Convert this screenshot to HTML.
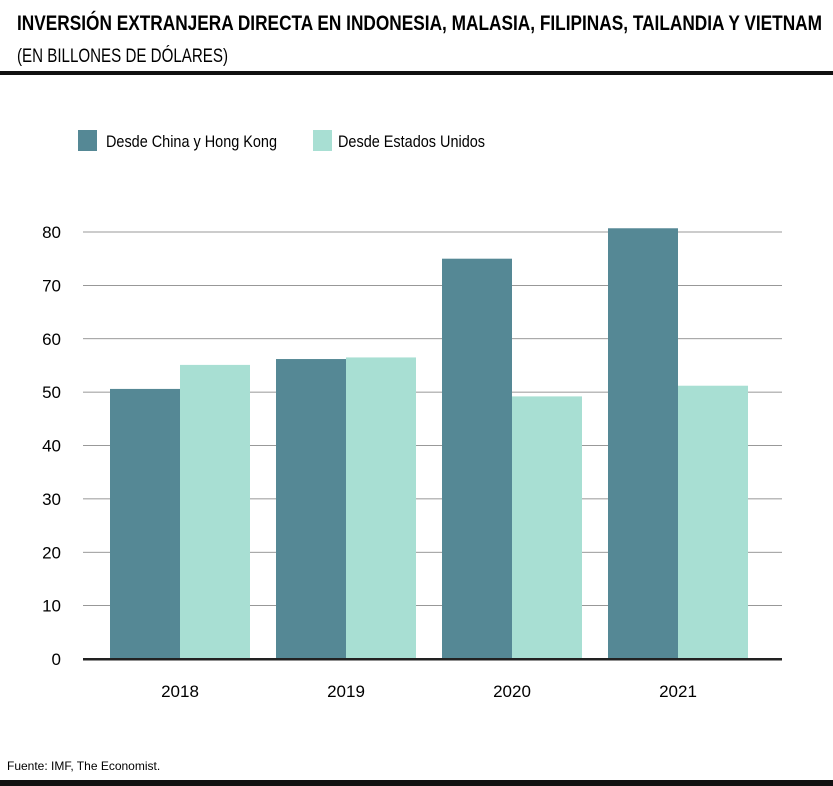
<!DOCTYPE html>
<html><head><meta charset="utf-8"><style>
html,body{margin:0;padding:0;background:#fff;}
svg{display:block;font-family:"Liberation Sans Narrow","Liberation Sans",sans-serif;}
</style></head><body>
<svg width="833" height="786" viewBox="0 0 833 786">
<text x="17" y="30" font-size="21" font-weight="bold" textLength="805" lengthAdjust="spacingAndGlyphs">INVERSIÓN EXTRANJERA DIRECTA EN INDONESIA, MALASIA, FILIPINAS, TAILANDIA Y VIETNAM</text>
<text x="17" y="62" font-size="19" textLength="211" lengthAdjust="spacingAndGlyphs">(EN BILLONES DE DÓLARES)</text>
<rect x="0" y="71" width="833" height="4" fill="#111"/>
<g>
<rect x="78" y="130" width="19" height="21" fill="#558895"/>
<text x="106" y="147" font-size="17" textLength="171" lengthAdjust="spacingAndGlyphs">Desde China y Hong Kong</text>
<rect x="313" y="130" width="19" height="21" fill="#a8dfd3"/>
<text x="338" y="147" font-size="17" textLength="147" lengthAdjust="spacingAndGlyphs">Desde Estados Unidos</text>
</g>
<g id="grid"></g><g id="bars"></g><g id="xlabels"></g>
<rect x="83" y="658" width="699" height="2.5" fill="#222"/>
<text x="7" y="770" font-size="12">Fuente: IMF, The Economist.</text>
<rect x="0" y="780" width="833" height="6" fill="#111"/>
</svg>
<script>
const categories=["2018","2019","2020","2021"];
const chinaValues=[50.6,56.2,75.0,80.7];
const usValues=[55.1,56.5,49.2,51.2];
const yTicks=[0,10,20,30,40,50,60,70,80];
const NS="http://www.w3.org/2000/svg";
const y0=659, pxPer=(659-232)/80;
function y(v){return y0-v*pxPer;}
function xg(i){return 110+i*166;}
const grid=document.getElementById('grid');
yTicks.forEach(t=>{
  if(t>0){
    const l=document.createElementNS(NS,'line');
    
    
    l.setAttribute('x1',83);l.setAttribute('x2',782);
    l.setAttribute('y1',y(t));l.setAttribute('y2',y(t));
    l.setAttribute('stroke','#777');l.setAttribute('stroke-width','0.8');
    grid.appendChild(l);
  }
  const tx=document.createElementNS(NS,'text');
  
  
  tx.setAttribute('x',61);tx.setAttribute('y',y(t)+6);
  tx.setAttribute('text-anchor','end');tx.setAttribute('font-size','17');
  tx.textContent=t;grid.appendChild(tx);
});
const bars=document.getElementById('bars'), xl=document.getElementById('xlabels');
categories.forEach((c,i)=>{
  [[chinaValues[i],'#558895',0,'china'],[usValues[i],'#a8dfd3',70,'us']].forEach(([v,col,off,n])=>{
    const r=document.createElementNS(NS,'rect');
    
    
    r.setAttribute('x',xg(i)+off);r.setAttribute('width',70);
    r.setAttribute('y',y(v));r.setAttribute('height',y0-y(v));
    r.setAttribute('fill',col);bars.appendChild(r);
  });
  const t=document.createElementNS(NS,'text');
  
  
  t.setAttribute('x',xg(i)+70);t.setAttribute('y',697);
  t.setAttribute('text-anchor','middle');t.setAttribute('font-size','17');
  t.textContent=c;xl.appendChild(t);
});
</script>
</body></html>
